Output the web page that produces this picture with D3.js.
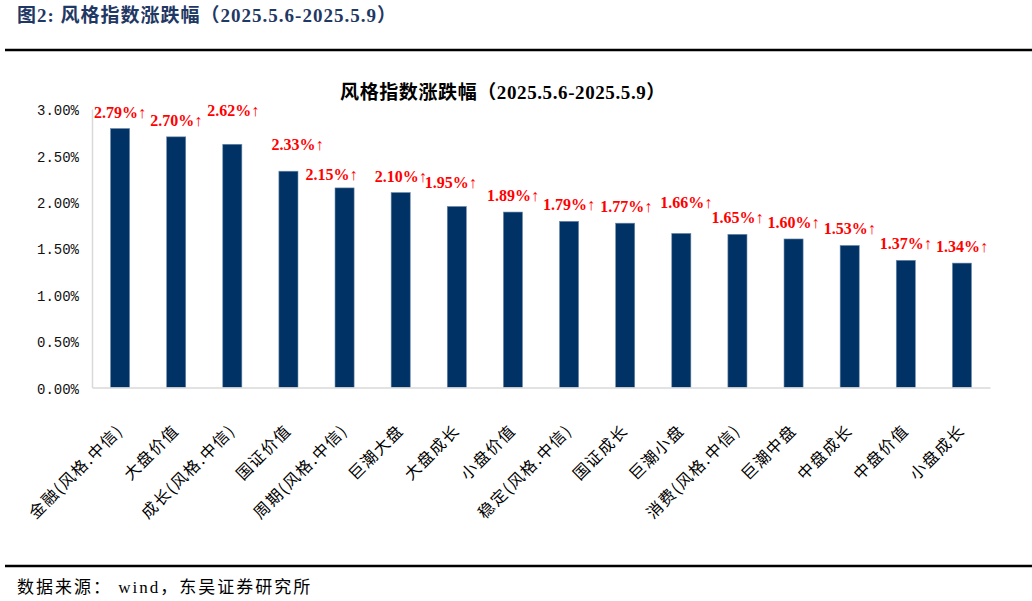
<!DOCTYPE html>
<html>
<head>
<meta charset="utf-8">
<script src="https://cdn.jsdelivr.net/npm/d3@7"></script>
<style>
  body { margin: 0; background: #fff; }
  svg { display: block; }
</style>
</head>
<body>
<script>
// Chart data
var categories = ["金融(风格.中信)", "大盘价值", "成长(风格.中信)", "国证价值", "周期(风格.中信)",
  "巨潮大盘", "大盘成长", "小盘价值", "稳定(风格.中信)", "国证成长", "巨潮小盘",
  "消费(风格.中信)", "巨潮中盘", "中盘成长", "中盘价值", "小盘成长"];
var changes = [2.79, 2.70, 2.62, 2.33, 2.15, 2.10, 1.95, 1.89, 1.79, 1.77, 1.66, 1.65, 1.60, 1.53, 1.37, 1.34];
var yTicks = [0, 0.5, 1.0, 1.5, 2.0, 2.5, 3.0];

// Hand-placed label nudges (as in the source chart)
var labelDx = [0, 0, 1, 9, -13, 0, -6, 0, 0, 1, 5, 0, 0, 0, 0, 0];
var labelDy = [0, 0, -17, -10, 3, 0, -7, 0, 0, 0, -14, 0, 0, 0, 0, 0];

var svgWidth = 1032;
var svgHeight = 601;
var margin = { top: 109, right: 42, bottom: 213.5, left: 92 };

var width = svgWidth - margin.left - margin.right;
var height = svgHeight - margin.top - margin.bottom;

var serif = "'Liberation Serif', 'Noto Sans CJK SC', serif";

var svg = d3.select("body")
  .append("svg")
  .attr("width", svgWidth)
  .attr("height", svgHeight);

// Header and rules
svg.append("text")
  .attr("x", 17)
  .attr("y", 22)
  .attr("font-family", serif)
  .attr("font-weight", "bold")
  .attr("font-size", "19px")
  .attr("letter-spacing", "1px")
  .attr("fill", "#1F3864")
  .text("图2:  风格指数涨跌幅（2025.5.6-2025.5.9）");

svg.append("line")
  .attr("x1", 5).attr("x2", 1032)
  .attr("y1", 50).attr("y2", 50)
  .attr("stroke", "#000")
  .attr("stroke-width", 2.5);

svg.append("line")
  .attr("x1", 5).attr("x2", 1032)
  .attr("y1", 566).attr("y2", 566)
  .attr("stroke", "#000")
  .attr("stroke-width", 2.5);

svg.append("text")
  .attr("x", 17)
  .attr("y", 593)
  .attr("font-family", serif)
  .attr("font-size", "17px")
  .attr("letter-spacing", "2px")
  .attr("fill", "#000")
  .text("数据来源： wind，东吴证券研究所");

// Chart title
svg.append("text")
  .attr("x", 503)
  .attr("y", 99)
  .attr("text-anchor", "middle")
  .attr("font-family", serif)
  .attr("font-weight", "bold")
  .attr("font-size", "19px")
  .attr("letter-spacing", "0.6px")
  .attr("fill", "#000")
  .text("风格指数涨跌幅（2025.5.6-2025.5.9）");

var chartGroup = svg.append("g")
  .attr("transform", `translate(${margin.left}, ${margin.top})`);

// Scales
var xScale = d3.scaleBand()
  .domain(categories)
  .range([0, width])
  .paddingInner(0.66)
  .paddingOuter(0.33);

var yScale = d3.scaleLinear()
  .domain([0, 3])
  .range([height, 0]);

// Bars
chartGroup.selectAll("rect.bar")
  .data(changes)
  .enter()
  .append("rect")
  .attr("class", "bar")
  .attr("x", function (d, i) { return xScale(categories[i]); })
  .attr("y", function (d) { return yScale(d); })
  .attr("width", xScale.bandwidth())
  .attr("height", function (d) { return height - yScale(d); })
  .attr("fill", "#003265")
  .attr("stroke", "#6F8BAA")
  .attr("stroke-width", 0.6);

// Value labels
chartGroup.selectAll("text.val")
  .data(changes)
  .enter()
  .append("text")
  .attr("class", "val")
  .attr("x", function (d, i) { return xScale(categories[i]) + xScale.bandwidth() / 2 + labelDx[i]; })
  .attr("y", function (d, i) { return yScale(d) - 11 + labelDy[i]; })
  .attr("text-anchor", "middle")
  .attr("font-family", "'Liberation Serif', serif")
  .attr("font-weight", "bold")
  .attr("font-size", "16px")
  .attr("fill", "#FF0000")
  .text(function (d) { return d.toFixed(2) + "%↑"; });

// Y axis
var yAxis = d3.axisLeft(yScale)
  .tickValues(yTicks)
  .tickSize(0)
  .tickPadding(13)
  .tickFormat(function (d) { return d.toFixed(2) + "%"; });

var yG = chartGroup.append("g")
  .attr("class", "y-axis")
  .call(yAxis);
yG.select(".domain").attr("stroke", "#D9D9D9").attr("stroke-width", 1.5);
yG.selectAll("text")
  .attr("font-family", "'Liberation Mono', monospace")
  .attr("font-size", "14px")
  .attr("fill", "#111")
  .attr("dy", "0.4em");

// X axis
var xAxis = d3.axisBottom(xScale)
  .tickSize(0)
  .tickFormat("");

var xG = chartGroup.append("g")
  .attr("class", "x-axis")
  .attr("transform", `translate(0,${height})`)
  .call(xAxis);
xG.select(".domain").attr("stroke", "#D9D9D9").attr("stroke-width", 1.5);

// Rotated category labels
chartGroup.selectAll("text.cat")
  .data(categories)
  .enter()
  .append("text")
  .attr("class", "cat")
  .attr("transform", function (d) {
    return `translate(${xScale(d) + xScale.bandwidth() / 2 + 4},${height + 44})rotate(-45)`;
  })
  .attr("text-anchor", "end")
  .attr("font-family", "'Noto Sans CJK SC', sans-serif")
  .attr("font-size", "16px")
  .attr("letter-spacing", "1.5px")
  .attr("fill", "#000")
  .text(function (d) { return d; });
</script>
</body>
</html>
